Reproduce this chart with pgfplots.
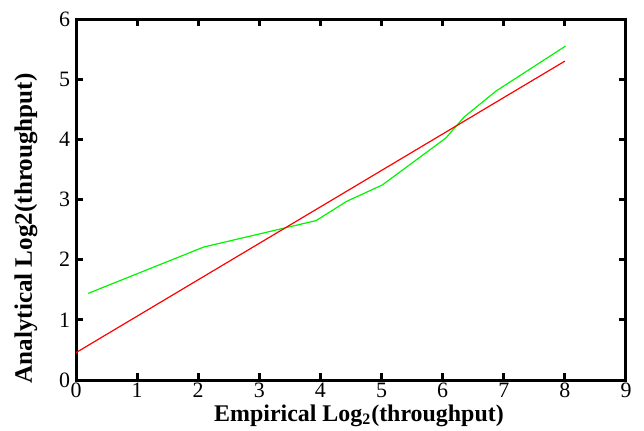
\documentclass[border=0pt]{standalone}
\usepackage{pgfplots}
\pgfplotsset{compat=1.18}
\usepackage{fontspec}
\setmainfont{Liberation Serif}
\begin{document}
\begin{tikzpicture}
\begin{axis}[
  scale only axis,
  width=275bp, height=180.5bp,
  xmin=0, xmax=9, ymin=0, ymax=6,
  xtick={0,...,9}, ytick={0,...,6},
  tick align=inside,
  major tick length=3.5bp,
  axis line style={line width=1.5bp},
  tick style={draw=black, line width=1.4bp},
  tick label style={font=\fontsize{11}{13}\selectfont},
  /pgf/number format/assume math mode=true,
  xticklabel style={yshift=2bp},
  yticklabel style={xshift=0.5bp},
  xlabel={\textbf{Empirical Log$_{\mathbf{2}}$(throughput)}},
  ylabel={\textbf{Analytical Log2(throughput)}},
  xlabel style={font=\fontsize{12}{14}\selectfont, at={(axis description cs:0.5,0)}, anchor=north, inner sep=0pt, yshift=-12bp, xshift=4bp},
  ylabel style={font=\fontsize{12.6}{14}\selectfont, at={(axis description cs:0,0.5)}, anchor=center, yshift=25bp, xshift=-14.5bp},
]
\addplot[color={rgb,255:red,0;green,245;blue,0}, line width=0.6bp] coordinates {
(0.20,1.44) (2.09,2.21) (3.93,2.65) (4.43,2.97) (5.01,3.24) (6.05,4.02) (6.35,4.37) (6.87,4.80) (8.01,5.55)
};
\addplot[color={rgb,255:red,255;green,0;blue,0}, line width=0.6bp] coordinates {
(0,0.455) (8.0,5.30)
};
\end{axis}
\path ([shift={(-38bp,-25bp)}]current axis.south west) rectangle ([shift={(9bp,9.5bp)}]current axis.north east);
\end{tikzpicture}
\end{document}
